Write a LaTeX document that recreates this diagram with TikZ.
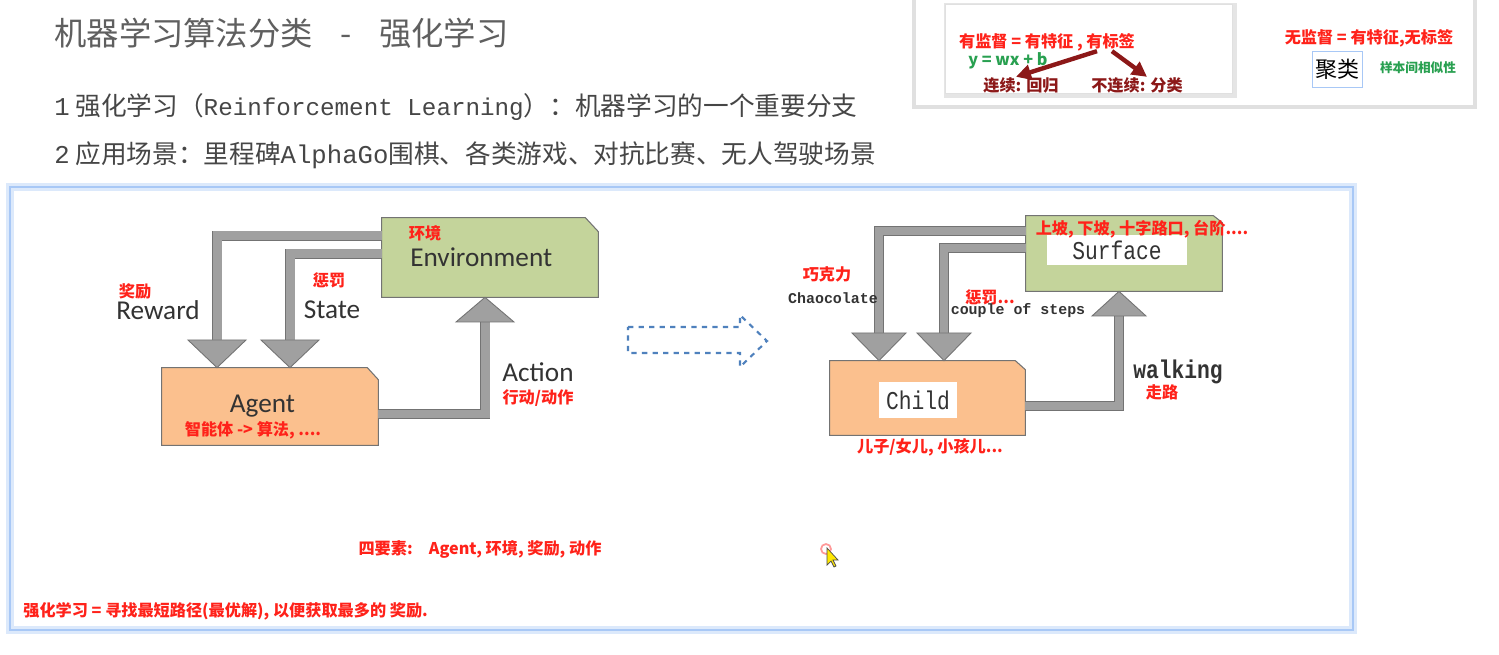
\documentclass[tikz,border=0pt]{standalone}
\usepackage{fontspec}
\setmainfont{Noto Sans CJK SC}
\newfontfamily\latin{Carlito}
\newfontfamily\mono{Liberation Mono}
\newfontfamily\monoc[FakeStretch=0.83]{Liberation Mono}
\usetikzlibrary{arrows.meta,backgrounds}
\definecolor{redtxt}{RGB}{255,34,26}
\definecolor{greentxt}{RGB}{40,160,80}
\definecolor{darkred}{RGB}{140,24,24}
\definecolor{envgreen}{RGB}{196,212,155}
\definecolor{agentorange}{RGB}{251,192,142}
\definecolor{arrowgray}{RGB}{160,160,160}
\definecolor{edgegray}{RGB}{115,115,115}
\definecolor{dashblue}{RGB}{79,129,189}
\definecolor{panelblue}{RGB}{168,200,246}
\definecolor{titlegray}{RGB}{95,95,95}
\definecolor{textgray}{RGB}{70,70,70}
\begin{document}
\begin{tikzpicture}[x=0.02cm,y=-0.02cm,
    redlbl/.style={text=redtxt,inner sep=0pt,font=\fontsize{9.2}{10}\selectfont\bfseries},
    darklbl/.style={text=darkred,inner sep=0pt,font=\fontsize{9.2}{10}\selectfont\bfseries},
    greenlbl/.style={text=greentxt,inner sep=0pt,font=\fontsize{9.2}{10}\selectfont\bfseries},
    latinlbl/.style={text=black!80,inner sep=0pt,font=\latin\fontsize{15.5}{17}\selectfont},
    monolbl/.style={text=black!80,inner sep=0pt,font=\monoc\fontsize{14.6}{16}\selectfont},
    monosm/.style={text=black!80,inner sep=0pt,font=\mono\bfseries\fontsize{8.5}{10}\selectfont},
    stagebox/.style={inner sep=0pt},
    boxline/.style={draw=edgegray,line width=0.6pt},
    whitebox/.style={fill=white,inner sep=0pt},
    shaft/.style={draw=edgegray,line width=0.5pt,double=arrowgray,double distance=0.18cm},
    head/.style={draw=edgegray,line width=0.5pt,fill=arrowgray},
    redarrow/.style={draw=darkred,line width=2.5pt,-{Triangle[length=0.3cm,width=0.3cm]}}]

  \useasboundingbox (0,0) rectangle (1499,655);

  \draw[black!12,line width=2pt] (914,-5) rectangle (1475,107);
  \draw[black!10,line width=3pt] (947,6) rectangle (1234,95);
  \draw[black!12,fill=white] (945,4) rectangle (1232,93);
  \draw[panelblue!40,line width=5pt] (10,187) rectangle (1353,630);
  \draw[panelblue,line width=1.5pt] (10,187) rectangle (1353,630);

  \begin{scope}[every node/.style={anchor=west,inner sep=0pt}]
    \node[text=titlegray,font=\fontsize{18.4}{20}\selectfont] (title) at (54,33)
      {机器学习算法分类\hspace{0.55cm}-\hspace{0.55cm}强化学习};
    \node[text=textgray,font=\fontsize{14.6}{16}\selectfont] (l1) at (54,107)
      {{\mono 1} 强化学习（{\mono\fontsize{13.8}{16}\selectfont Reinforcement Learning}）：机器学习的一个重要分支};
    \node[text=textgray,font=\fontsize{14.6}{16}\selectfont] (l2) at (54,155)
      {{\mono 2} 应用场景：里程碑{\mono AlphaGo}围棋、各类游戏、对抗比赛、无人驾驶场景};
  \end{scope}

  \node[redlbl] (sup) at (1047,42) {有监督 = 有特征 , 有标签};
  \node[greenlbl] (lin) at (1008,61) {y = wx + b};
  \node[darklbl] (reg) at (1021,85) {连续: 回归};
  \node[darklbl] (cls) at (1137,85) {不连续: 分类};
  \draw[redarrow] ([xshift=1cm]sup.south) -- ([xshift=-0.1cm]reg.north);
  \draw[redarrow] ([xshift=1.3cm]sup.south) -- ([xshift=0.2cm]cls.north);
  \node[redlbl] (unsup) at (1369,38) {无监督 = 有特征,无标签};
  \node[draw=panelblue,fill=white,inner sep=0pt,minimum width=1cm,minimum height=0.72cm,
    font=\fontsize{12.5}{14}\selectfont] (clu) at (1337,69) {聚类};
  \node[greenlbl,font=\fontsize{7.2}{8}\selectfont\bfseries] (sim) at (1418,68) {样本间相似性};

  \begin{scope}[every node/.style={stagebox}]
    \node[minimum width=4.32cm,minimum height=1.58cm,latinlbl] (env) at (490,257.5) {Environment\hspace*{0.35cm}};
    \node[minimum width=4.32cm,minimum height=1.54cm,latinlbl] (agent) at (270,406.5) {Agent\hspace*{0.3cm}};
    \node[minimum width=3.92cm,minimum height=1.5cm] (surf) at (1124,253.5) {};
    \node[minimum width=3.9cm,minimum height=1.48cm] (child) at (927.5,398) {};
  \end{scope}

  \begin{scope}[on background layer]
    \fill[white] (0,0) rectangle (1499,655);
    \draw[boxline,fill=envgreen] (env.south west) -- (env.north west) -- ([xshift=-0.26cm]env.north east)
      -- ([yshift=-0.28cm]env.north east) -- (env.south east) -- cycle;
    \draw[boxline,fill=agentorange] (agent.south west) -- (agent.north west) -- ([xshift=-0.22cm]agent.north east)
      -- ([yshift=-0.24cm]agent.north east) -- (agent.south east) -- cycle;
    \draw[boxline,fill=envgreen] (surf.south west) -- (surf.north west) -- ([xshift=-0.18cm]surf.north east)
      -- ([yshift=-0.14cm]surf.north east) -- (surf.south east) -- cycle;
    \draw[boxline,fill=agentorange] (child.south west) -- (child.north west) -- ([xshift=-0.2cm]child.north east)
      -- ([yshift=-0.18cm]child.north east) -- (child.south east) -- cycle;
  \end{scope}

  \node[whitebox,monolbl,minimum width=2.8cm,minimum height=0.6cm] (surftxt) at (1117,250) {Surface\hspace{0.68cm}};
  \node[whitebox,monolbl,minimum width=1.56cm,minimum height=0.72cm] (childtxt) at (918,400) {Child};

  \draw[shaft] (env.west |- 0,236) -| (217,340);
  \draw[head] (188,340) -- (agent.north -| 217,0) -- (246,340) -- cycle;
  \draw[shaft] (env.west |- 0,254) -| (290,340);
  \draw[head] (261,340) -- (agent.north -| 290,0) -- (319,340) -- cycle;
  \draw[shaft] (agent.east |- 0,414) -| (485,322);
  \draw[head] (456,322) -- (env.south -| 485,0) -- (514,322) -- cycle;

  \begin{scope}[shaft/.append style={double distance=0.15cm}]
    \draw[shaft] (surf.west |- 0,231) -| (879,333);
    \draw[head] (852,333) -- (child.north -| 879,0) -- (906,333) -- cycle;
    \draw[shaft] (surf.west |- 0,248) -| (944,333);
    \draw[head] (917,333) -- (child.north -| 944,0) -- (971,333) -- cycle;
    \draw[shaft] (child.east |- 0,406) -| (1119,316);
    \draw[head] (1092,316) -- (surf.south -| 1119,0) -- (1146,316) -- cycle;
  \end{scope}

  \node[redlbl] (jl) at (135,291) {奖励};
  \node[latinlbl] (rw) at (158,310) {Reward};
  \node[redlbl] (cf) at (329,280) {惩罚};
  \node[latinlbl] (st) at (332,310) {State};
  \node[redlbl] (hj) at (425,233) {环境};
  \node[redlbl] (znt) at (253,430) {智能体 -> 算法, ....};
  \node[latinlbl] (act) at (538,372) {Action};
  \node[redlbl] (xd) at (538,398) {行动/动作};

  \draw[dashblue,dashed,line width=1.2pt] (628,327) -- (740,327) -- (740,315) -- (767,341)
    -- (740,367) -- (740,353) -- (628,353) -- cycle;

  \node[redlbl] (sp) at (1142,229) {上坡, 下坡, 十字路口, 台阶....};
  \node[redlbl] (qkl) at (827,274) {巧克力};
  \node[monosm] (choc) at (833,298) {Chaocolate};
  \node[redlbl] (cf2) at (990,297) {惩罚...};
  \node[monosm] (cos) at (1018,311) {couple of steps};
  \node[monolbl,font=\monoc\bfseries\fontsize{14.6}{16}\selectfont] (walk) at (1178,372) {walking};
  \node[redlbl] (zl) at (1162,392) {走路};
  \node[redlbl] (er) at (930,447) {儿子/女儿, 小孩儿...};

  \node[redlbl] (four) at (480,549) {四要素:\quad Agent, 环境, 奖励, 动作};
  \node[redlbl,anchor=west] (rl) at (23,611) {强化学习 = 寻找最短路径(最优解), 以便获取最多的 奖励.};

  \draw[red!40,line width=1pt] (826,549) circle (5);
  \filldraw[fill=yellow!90!orange,draw=black!70,line width=0.4pt] (827,548) -- (827,565) -- (831,561)
    -- (834,567) -- (836,566) -- (833,560) -- (838,560) -- cycle;

\end{tikzpicture}
\end{document}
